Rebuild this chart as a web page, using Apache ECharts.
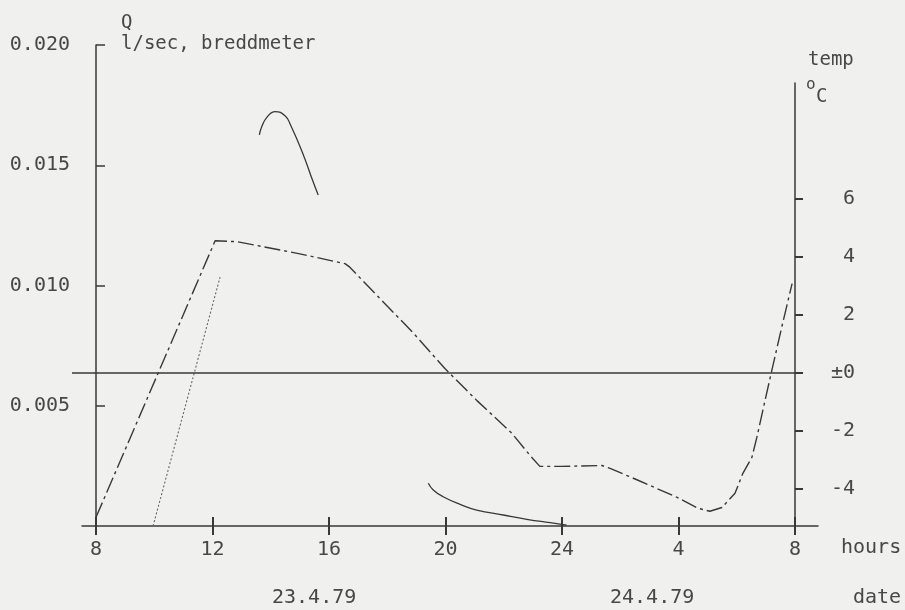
<!DOCTYPE html>
<html>
<head>
<meta charset="utf-8">
<script src="https://cdn.jsdelivr.net/npm/echarts@6/dist/echarts.min.js"></script>
<style>
  html, body { margin: 0; padding: 0; background: #f0f0ee; }
  #chart { width: 905px; height: 610px; }
</style>
</head>
<body>
<div id="chart"></div>
<script>
// ---- data (hours counted from 8:00 on 23.4.79; 24 = midnight, 32 = 8:00 on 24.4.79) ----
const tempHours  = [8.0, 12.09, 12.84, 15.0, 16.55, 16.69, 18.88, 19.98, 21.08, 22.28, 22.9, 23.24, 24.0, 25.37, 25.65, 26.61, 27.95, 28.67, 29.08, 29.49, 29.94, 30.21, 30.52, 30.69, 30.97, 31.21, 31.55, 31.9];
const tempValues = [-5.0, 4.55, 4.52, 4.10, 3.76, 3.66, 1.38, 0.14, -0.97, -2.10, -2.86, -3.24, -3.24, -3.21, -3.31, -3.72, -4.31, -4.69, -4.79, -4.66, -4.17, -3.48, -2.93, -2.24, -0.97, 0.10, 1.59, 3.07];

const qPeakHours  = [13.61, 13.69, 13.86, 14.15, 14.49, 14.68, 15.12, 15.41, 15.63];
const qPeakValues = [0.01626, 0.01660, 0.01698, 0.01723, 0.01706, 0.01667, 0.01543, 0.01446, 0.01376];

const qNightHours  = [19.41, 19.58, 19.92, 20.50, 21.07, 21.98, 22.79, 23.59, 24.16];
const qNightValues = [0.001775, 0.001497, 0.001218, 0.000902, 0.000665, 0.000457, 0.000279, 0.000137, 0.00004];

const riseHours  = [9.96, 12.26];
const riseValues = [0.0, 0.01035];

const hourTicks  = [8, 12, 16, 20, 24, 28, 32];
const hourLabels = ['8', '12', '16', '20', '24', '4', '8'];
const qTicks     = [0.005, 0.010, 0.015, 0.020];
const tempTicks  = [-4, -2, 0, 2, 4, 6];
const tempLabels = ['-4', '-2', '±0', '2', '4', '6'];

const pairs = (xs, ys) => xs.map((x, i) => [x, ys[i]]);

const FONT = 'DejaVu Sans Mono';
const INK = '#383838';
const TXT = '#474747';
const tfont = sz => sz + 'px "DejaVu Sans Mono"';

// plotting area: hour 8 -> x 96, hour 32 -> x 795 ; the drawn time axis runs a little wider
const PX_PER_H = 699 / 24;
const AX_MIN = 8 - 14 / PX_PER_H;
const AX_MAX = 32 + 23 / PX_PER_H;

const chart = echarts.init(document.getElementById('chart'), null, { renderer: 'canvas' });
chart.setOption({
  animation: false,
  backgroundColor: '#f0f0ee',
  textStyle: { fontFamily: FONT, color: TXT },
  grid: [
    { left: 96, right: 110, top: 45, bottom: 84 },   // Q
    { left: 96, right: 110, top: 83, bottom: 84 },   // temp
    { left: 82, right: 87,  top: 83, bottom: 84 },   // drawn time axis
    { left: 72, right: 103, top: 83, bottom: 84 }    // zero-degree line
  ],
  xAxis: [
    { gridIndex: 0, type: 'value', min: 8, max: 32, show: false },
    {
      gridIndex: 1, type: 'value', min: 8, max: 32, interval: 4,
      axisLine: { show: false, onZero: false },
      axisTick: { inside: true, length: 9, lineStyle: { color: INK, width: 2 } },
      axisLabel: { show: false },
      splitLine: { show: false }
    },
    {
      gridIndex: 2, type: 'value', min: AX_MIN, max: AX_MAX,
      axisLine: { onZero: false, lineStyle: { color: INK, width: 1.5 } },
      axisTick: { length: 9, lineStyle: { color: INK, width: 2 }, customValues: hourTicks },
      axisLabel: {
        margin: 14, fontSize: 20, fontFamily: FONT, color: TXT,
        customValues: hourTicks,
        formatter: v => hourLabels[hourTicks.indexOf(v)] ?? ''
      },
      splitLine: { show: false }
    },
    { gridIndex: 3, type: 'value', min: 0, max: 1, show: false }
  ],
  yAxis: [
    {
      gridIndex: 0, type: 'value', min: 0, max: 0.02, interval: 0.005,
      axisLine: { show: true, lineStyle: { color: INK, width: 1.5 } },
      axisTick: { show: true, inside: true, length: 9, lineStyle: { color: INK, width: 1.5 },
                  customValues: qTicks },
      axisLabel: { margin: 26, fontSize: 20, fontFamily: FONT, color: TXT,
                   customValues: qTicks, formatter: v => v.toFixed(3) },
      splitLine: { show: false }
    },
    {
      gridIndex: 1, type: 'value', position: 'right', min: -5.3, max: 10,
      axisLine: { show: true, onZero: false, lineStyle: { color: INK, width: 1.5 } },
      axisTick: { show: true, length: 8, lineStyle: { color: INK, width: 2 },
                  customValues: tempTicks },
      axisLabel: { margin: 60, align: 'right', fontSize: 20, fontFamily: FONT, color: TXT,
                   customValues: tempTicks,
                   formatter: v => tempLabels[tempTicks.indexOf(v)] ?? '' },
      splitLine: { show: false }
    },
    { gridIndex: 2, type: 'value', min: 0, max: 1, show: false },
    { gridIndex: 3, type: 'value', min: -5.3, max: 10, show: false }
  ],
  graphic: [
    { type: 'text', left: 121, top: 14, style: { text: 'Q', font: tfont(19), fill: TXT } },
    { type: 'text', left: 121, top: 35, style: { text: 'l/sec, breddmeter', font: tfont(19), fill: TXT } },
    { type: 'text', left: 808, top: 51, style: { text: 'temp', font: tfont(19), fill: TXT } },
    { type: 'text', left: 806, top: 77, style: { text: 'o', font: tfont(16), fill: TXT } },
    { type: 'text', left: 816, top: 88, style: { text: 'C', font: tfont(19), fill: TXT } },
    { type: 'text', left: 841, top: 538, style: { text: 'hours', font: tfont(20), fill: TXT } },
    { type: 'text', left: 853, top: 588, style: { text: 'date', font: tfont(20), fill: TXT } },
    { type: 'text', left: 272, top: 588, style: { text: '23.4.79', font: tfont(20), fill: TXT } },
    { type: 'text', left: 610, top: 588, style: { text: '24.4.79', font: tfont(20), fill: TXT } }
  ],
  series: [
    {
      name: 'zero line', type: 'line', xAxisIndex: 3, yAxisIndex: 3, data: [],
      markLine: {
        silent: true, symbol: 'none', animation: false,
        label: { show: false },
        lineStyle: { color: INK, width: 1.6, type: 'solid' },
        data: [{ yAxis: 0 }]
      }
    },
    {
      name: 'temp', type: 'line', xAxisIndex: 1, yAxisIndex: 1,
      data: pairs(tempHours, tempValues),
      showSymbol: false, symbol: 'none',
      lineStyle: { color: INK, width: 1.4, type: [16, 4, 3, 4] },
      z: 3
    },
    {
      name: 'Q day', type: 'line', xAxisIndex: 0, yAxisIndex: 0,
      data: pairs(qPeakHours, qPeakValues),
      smooth: true, showSymbol: false, symbol: 'none',
      lineStyle: { color: INK, width: 1.3 }
    },
    {
      name: 'Q night', type: 'line', xAxisIndex: 0, yAxisIndex: 0,
      data: pairs(qNightHours, qNightValues),
      smooth: true, showSymbol: false, symbol: 'none',
      lineStyle: { color: INK, width: 1.3 }
    },
    {
      name: 'Q rise', type: 'line', xAxisIndex: 0, yAxisIndex: 0,
      data: pairs(riseHours, riseValues),
      showSymbol: false, symbol: 'none',
      lineStyle: { color: '#666', width: 1.1, type: [2, 2] }
    }
  ]
});
</script>
</body>
</html>
